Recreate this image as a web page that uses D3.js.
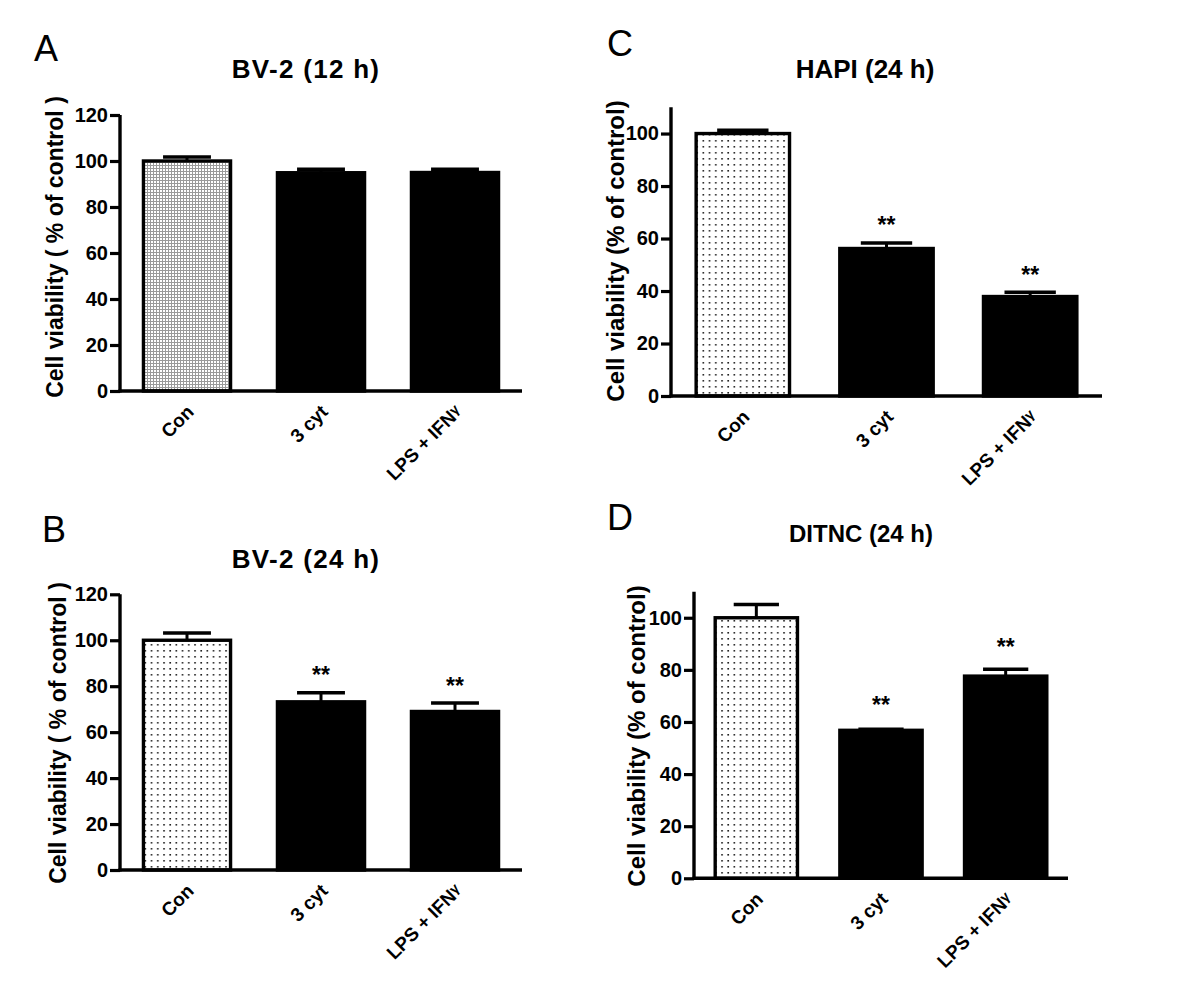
<!DOCTYPE html>
<html>
<head>
<meta charset="utf-8">
<script src="https://cdn.jsdelivr.net/npm/d3@7"></script>
<style>
  html, body { margin: 0; padding: 0; background: #fff; }
  svg { display: block; font-family: "Liberation Sans", Arial, Helvetica, sans-serif; }
</style>
</head>
<body>
<svg id="chart" width="1200" height="1000"></svg>
<script>
// ---------------- DATA ----------------
const categories = ["Con", "3 cyt", "LPS + IFN"];
const categorySuffix = ["", "", "γ"];

const bv2_12h_mean = [100, 94.9, 95.0];
const bv2_12h_sem  = [1.7, 1.5, 1.4];
const bv2_12h_sig  = ["", "", ""];
const bv2_12h_sigAt = [null, null, null];

const bv2_24h_mean = [100, 73.2, 69.0];
const bv2_24h_sem  = [3.2, 3.9, 3.7];
const bv2_24h_sig  = ["", "**", "**"];
const bv2_24h_sigAt = [null, 81.5, 76.5];

const hapi_24h_mean = [100, 56.2, 37.9];
const hapi_24h_sem  = [1.3, 2.1, 1.6];
const hapi_24h_sig  = ["", "**", "**"];
const hapi_24h_sigAt = [null, 62.1, 43.0];

const ditnc_24h_mean = [100, 56.8, 77.6];
const ditnc_24h_sem  = [5.1, 0.4, 2.6];
const ditnc_24h_sig  = ["", "**", "**"];
const ditnc_24h_sigAt = [null, 63.5, 85.6];

const ticks_0_120 = [0, 20, 40, 60, 80, 100, 120];
const ticks_0_100 = [0, 20, 40, 60, 80, 100];

// ---------------- LAYOUT ----------------
const svg = d3.select("#chart");
svg.append("rect").attr("width", 1200).attr("height", 1000).attr("fill", "#fff");

const defs = svg.append("defs");
// fine grey grid pattern (panel A control)
const pg = defs.append("pattern").attr("id", "grid").attr("patternUnits", "userSpaceOnUse")
  .attr("width", 3).attr("height", 3);
pg.append("rect").attr("width", 3).attr("height", 3).attr("fill", "#fff");
pg.append("rect").attr("width", 3).attr("height", 1).attr("fill", "#9a9a9a");
pg.append("rect").attr("width", 1).attr("height", 3).attr("fill", "#9a9a9a");
// sparse dot pattern (panels B, C, D control)
const pd = defs.append("pattern").attr("id", "dots").attr("patternUnits", "userSpaceOnUse")
  .attr("width", 6.2).attr("height", 6);
pd.append("rect").attr("width", 6.2).attr("height", 6).attr("fill", "#fff");
pd.append("rect").attr("x", 2).attr("y", 2).attr("width", 1.6).attr("height", 1.6).attr("fill", "#222");

const panels = [
  { letter: "A", lx: 34, ly: 61, title: "BV-2 (12 h)", tx: 306, ty: 78, tsize: 26, tspace: 1.3,
    ytitle: "Cell viability ( % of control )", yx: 55, yy: 247, ysize: 23,
    left: 120, right: 522, top: 115, bottom: 391, max: 120, ticks: ticks_0_120,
    fill: "url(#grid)", mean: bv2_12h_mean, sem: bv2_12h_sem, sig: bv2_12h_sig, sigAt: bv2_12h_sigAt, pad: 0.35 },
  { letter: "B", lx: 42, ly: 542, title: "BV-2 (24 h)", tx: 306, ty: 568, tsize: 26, tspace: 1.3,
    ytitle: "Cell viability ( % of control )", yx: 58, yy: 733, ysize: 23,
    left: 120, right: 522, top: 594.3, bottom: 870, max: 120, ticks: ticks_0_120,
    fill: "url(#dots)", mean: bv2_24h_mean, sem: bv2_24h_sem, sig: bv2_24h_sig, sigAt: bv2_24h_sigAt, pad: 0.35 },
  { letter: "C", lx: 607, ly: 56, title: "HAPI (24 h)", tx: 865, ty: 78, tsize: 26, tspace: 0,
    ytitle: "Cell viability (% of control)", yx: 615, yy: 251, ysize: 24,
    left: 671, right: 1102, top: 107.3, bottom: 396, max: 110, ticks: ticks_0_100,
    fill: "url(#dots)", mean: hapi_24h_mean, sem: hapi_24h_sem, sig: hapi_24h_sig, sigAt: hapi_24h_sigAt, pad: 0.35 },
  { letter: "D", lx: 607, ly: 530, title: "DITNC (24 h)", tx: 861, ty: 542, tsize: 24, tspace: 0,
    ytitle: "Cell viability (% of control)", yx: 636, yy: 736, ysize: 24,
    left: 694, right: 1068, top: 591.7, bottom: 878.3, max: 110, ticks: ticks_0_100,
    fill: "url(#dots)", mean: ditnc_24h_mean, sem: ditnc_24h_sem, sig: ditnc_24h_sig, sigAt: ditnc_24h_sigAt, pad: 0.34 }
];

panels.forEach(p => {
  const g = svg.append("g");
  const x = d3.scaleBand().domain(categories).range([p.left, p.right])
    .paddingInner(p.pad).paddingOuter(p.pad / 2);
  const y = d3.scaleLinear().domain([0, p.max]).range([p.bottom, p.top]);

  // panel letter
  g.append("text").attr("x", p.lx).attr("y", p.ly).attr("font-size", 36)
    .attr("fill", "#000").text(p.letter);
  // title
  g.append("text").attr("x", p.tx).attr("y", p.ty).attr("text-anchor", "middle")
    .attr("font-size", p.tsize).attr("font-weight", "bold").attr("letter-spacing", p.tspace)
    .text(p.title);
  // y title
  g.append("text").attr("transform", `translate(${p.yx},${p.yy}) rotate(-90)`)
    .attr("text-anchor", "middle").attr("dominant-baseline", "central")
    .attr("font-size", p.ysize).attr("font-weight", "bold").text(p.ytitle);

  const bw = x.bandwidth();
  const idx = d => categories.indexOf(d);

  // bars
  g.selectAll("rect.bar").data(categories).enter().append("rect").attr("class", "bar")
    .attr("x", d => x(d)).attr("width", bw)
    .attr("y", d => y(p.mean[idx(d)]))
    .attr("height", d => y(0) - y(p.mean[idx(d)]))
    .attr("fill", (d, i) => i === 0 ? p.fill : "#000")
    .attr("stroke", "#000").attr("stroke-width", 3.4);

  // error bars (upper only)
  const capW = bw * 0.55;
  categories.forEach((d, i) => {
    const cx = x(d) + bw / 2;
    const yTop = y(p.mean[i] + p.sem[i]);
    g.append("line").attr("x1", cx).attr("x2", cx).attr("y1", y(p.mean[i])).attr("y2", yTop)
      .attr("stroke", "#000").attr("stroke-width", 3);
    g.append("line").attr("x1", cx - capW / 2).attr("x2", cx + capW / 2).attr("y1", yTop).attr("y2", yTop)
      .attr("stroke", "#000").attr("stroke-width", 3.5);
    if (p.sig[i]) {
      g.append("text").attr("x", cx).attr("y", y(p.sigAt[i])).attr("text-anchor", "middle")
        .attr("font-size", 23).attr("font-weight", "bold").text(p.sig[i]);
    }
  });

  // y axis
  const yAxis = d3.axisLeft(y).tickValues(p.ticks).tickSize(10).tickPadding(2).tickFormat(d3.format("d"));
  const ya = g.append("g").attr("transform", `translate(${p.left},0)`).call(yAxis);
  ya.select(".domain").attr("d", `M0,${p.top}V${p.bottom + 1.5}`).attr("stroke-width", 3.4).attr("stroke", "#000");
  ya.selectAll(".tick line").attr("stroke-width", 3.2).attr("stroke", "#000");
  ya.selectAll(".tick text").attr("font-size", 20).attr("font-weight", "bold")
    .attr("font-family", "Liberation Sans, Arial, sans-serif").attr("fill", "#000");

  // x axis (no ticks)
  const xAxis = d3.axisBottom(x).tickSize(0).tickFormat("");
  const xa = g.append("g").attr("transform", `translate(0,${p.bottom})`).call(xAxis);
  xa.select(".domain").attr("d", `M${p.left - 1.5},0H${p.right}`).attr("stroke-width", 3.4).attr("stroke", "#000");

  // x labels (rotated)
  categories.forEach((d, i) => {
    const cx = x(d) + bw / 2;
    const t = g.append("text")
      .attr("transform", `translate(${cx + 8},${p.bottom + 22}) rotate(-45)`)
      .attr("text-anchor", "end").attr("font-size", 19).attr("font-weight", "bold");
    t.append("tspan").text(d);
    if (categorySuffix[i]) {
      t.append("tspan").attr("font-size", 14).attr("dy", -4).text(categorySuffix[i]);
    }
  });
});
</script>
</body>
</html>
